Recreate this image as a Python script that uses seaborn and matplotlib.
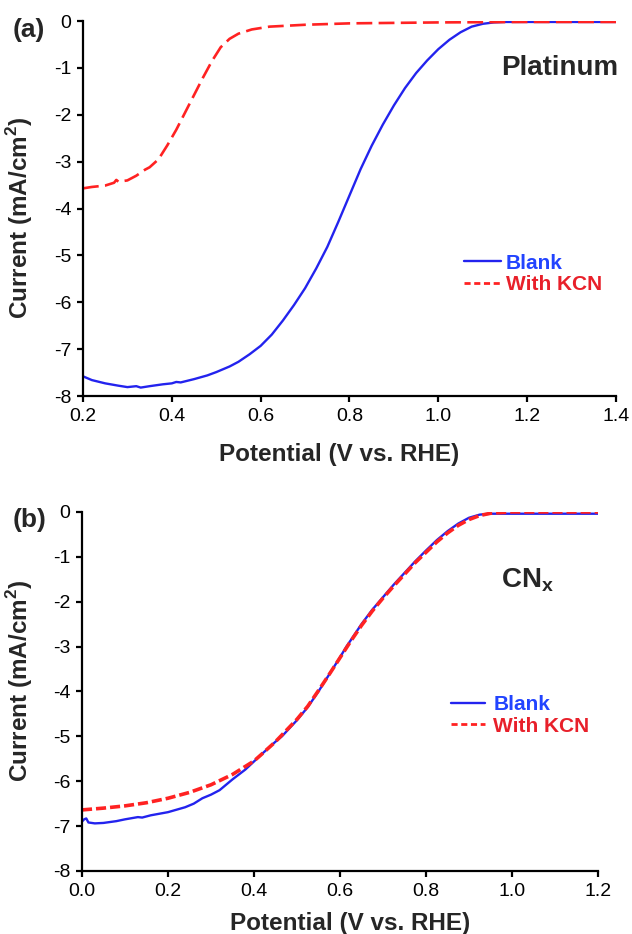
import matplotlib
matplotlib.use("Agg")
import matplotlib.pyplot as plt
from matplotlib.lines import Line2D
from matplotlib.ticker import FormatStrFormatter, MultipleLocator
import pandas as pd
import seaborn as sns

BLUE = "#2323ee"
RED = "#ff2222"

# panel (a): platinum
pt_blank_v = [0.20, 0.22, 0.25, 0.28, 0.30, 0.32, 0.33, 0.35, 0.38, 0.40, 0.41, 0.42,
              0.45, 0.48, 0.50, 0.53, 0.55, 0.575, 0.60, 0.625, 0.65, 0.675, 0.70,
              0.725, 0.75, 0.775, 0.80, 0.825, 0.85, 0.875, 0.90, 0.925, 0.95, 0.975,
              1.00, 1.025, 1.05, 1.075, 1.10, 1.125, 1.15, 1.20, 1.30, 1.40]
pt_blank_i = [-7.58, -7.66, -7.73, -7.78, -7.81, -7.79, -7.82, -7.79, -7.75, -7.73, -7.70, -7.71,
              -7.64, -7.56, -7.49, -7.37, -7.27, -7.11, -6.93, -6.69, -6.39, -6.06, -5.70,
              -5.28, -4.82, -4.28, -3.72, -3.16, -2.66, -2.21, -1.80, -1.43, -1.11, -0.84,
              -0.60, -0.40, -0.24, -0.12, -0.06, -0.03, -0.02, -0.02, -0.02, -0.02]
pt_kcn_v = [0.20, 0.22, 0.25, 0.27, 0.275, 0.28, 0.30, 0.32, 0.34, 0.35, 0.37, 0.39, 0.41,
            0.43, 0.45, 0.47, 0.49, 0.51, 0.53, 0.55, 0.58, 0.62, 0.70, 0.80, 0.90, 1.00,
            1.20, 1.40]
pt_kcn_i = [-3.57, -3.54, -3.51, -3.45, -3.39, -3.43, -3.40, -3.30, -3.17, -3.12, -2.95, -2.65,
            -2.32, -1.95, -1.58, -1.21, -0.86, -0.56, -0.38, -0.27, -0.18, -0.12, -0.08, -0.05,
            -0.04, -0.03, -0.02, -0.02]

# panel (b): CNx
cn_blank_v = [0.00, 0.005, 0.01, 0.015, 0.03, 0.05, 0.08, 0.10, 0.13, 0.14, 0.16, 0.20, 0.24,
              0.26, 0.28, 0.30, 0.32, 0.35, 0.38, 0.40, 0.42, 0.45, 0.465, 0.50, 0.525, 0.55,
              0.575, 0.60, 0.615, 0.625, 0.65, 0.675, 0.70, 0.725, 0.75, 0.775, 0.80, 0.825,
              0.85, 0.875, 0.90, 0.925, 0.95, 1.00, 1.20]
cn_blank_i = [-6.90, -6.85, -6.83, -6.92, -6.94, -6.93, -6.89, -6.85, -6.80, -6.81, -6.76, -6.69,
              -6.58, -6.50, -6.38, -6.30, -6.20, -5.96, -5.74, -5.56, -5.38, -5.12, -5.00, -4.64,
              -4.35, -4.00, -3.62, -3.24, -3.00, -2.86, -2.50, -2.18, -1.90, -1.62, -1.36, -1.10,
              -0.86, -0.63, -0.43, -0.26, -0.13, -0.06, -0.04, -0.04, -0.04]
cn_kcn_v = [0.00, 0.05, 0.10, 0.15, 0.20, 0.25, 0.30, 0.35, 0.40, 0.42, 0.45, 0.50, 0.525,
            0.55, 0.575, 0.60, 0.625, 0.65, 0.675, 0.70, 0.725, 0.75, 0.775, 0.80, 0.825,
            0.85, 0.875, 0.90, 0.925, 0.95, 1.00, 1.20]
cn_kcn_i = [-6.64, -6.60, -6.55, -6.48, -6.38, -6.25, -6.08, -5.85, -5.55, -5.38, -5.12, -4.62,
            -4.33, -3.98, -3.62, -3.25, -2.88, -2.53, -2.21, -1.92, -1.65, -1.39, -1.13, -0.90,
            -0.67, -0.47, -0.30, -0.17, -0.08, -0.03, 0.00, 0.00]

sns.set_theme(style="ticks")
plt.rcParams["font.family"] = ["Liberation Sans", "DejaVu Sans"]
plt.rcParams["mathtext.fontset"] = "custom"
plt.rcParams["mathtext.rm"] = "Liberation Sans"
plt.rcParams["mathtext.bf"] = "Liberation Sans:bold"
plt.rcParams["axes.unicode_minus"] = False

fig = plt.figure(figsize=(6.32, 9.34), dpi=100)
ax_a = fig.add_axes([0.1313, 0.576, 0.8434, 0.4015])
ax_b = fig.add_axes([0.1297, 0.0675, 0.8165, 0.3844])


def style_axes(ax, label_x, label_y, ylab_x, ylab_y):
    ax.set_ylim(-8, 0)
    ax.xaxis.set_major_locator(MultipleLocator(0.2))
    ax.yaxis.set_major_locator(MultipleLocator(1))
    ax.xaxis.set_major_formatter(FormatStrFormatter("%.1f"))
    ax.yaxis.set_major_formatter(FormatStrFormatter("%d"))
    sns.despine(ax=ax)
    for side in ["left", "bottom"]:
        ax.spines[side].set_linewidth(1.6)
        ax.spines[side].set_color("black")
    ax.tick_params(direction="out", length=4.5, width=1.6, color="black",
                   labelsize=14, labelcolor="black", pad=4)
    ax.set_xlabel("Potential (V vs. RHE)", fontsize=17.5, fontweight="bold")
    ax.set_ylabel("Current (mA/cm$^\\mathbf{2}$)", fontsize=17.5, fontweight="bold")
    ax.xaxis.set_label_coords(label_x, label_y)
    ax.yaxis.set_label_coords(ylab_x, ylab_y)
    ax.grid(False)


def legend(ax, anchor, handlelength, textpad):
    handles = [
        Line2D([], [], color=BLUE, lw=1.7),
        Line2D([], [], color=RED, lw=2.0, linestyle=(0, (2.2, 1.3))),
    ]
    leg = ax.legend(handles, ["Blank", "With KCN"], loc="upper left",
                    bbox_to_anchor=anchor, frameon=False, borderpad=0,
                    borderaxespad=0, handlelength=handlelength,
                    handletextpad=textpad, labelspacing=0.12,
                    prop={"size": 15, "weight": "bold"})
    leg.get_texts()[0].set_color("#2244ff")
    leg.get_texts()[1].set_color("#e8202a")


pt = pd.concat([
    pd.DataFrame({"v": pt_blank_v, "i": pt_blank_i, "s": "Blank"}),
    pd.DataFrame({"v": pt_kcn_v, "i": pt_kcn_i, "s": "With KCN"}),
])
cn = pd.concat([
    pd.DataFrame({"v": cn_blank_v, "i": cn_blank_i, "s": "Blank"}),
    pd.DataFrame({"v": cn_kcn_v, "i": cn_kcn_i, "s": "With KCN"}),
])

sns.lineplot(data=pt[pt["s"] == "Blank"], x="v", y="i", ax=ax_a, color=BLUE,
             lw=1.7, estimator=None, sort=False)
sns.lineplot(data=pt[pt["s"] == "With KCN"], x="v", y="i", ax=ax_a, color=RED,
             lw=1.9, linestyle=(0, (6.0, 2.4)), estimator=None, sort=False)
ax_a.set_xlim(0.2, 1.4)
style_axes(ax_a, 0.48, -0.125, -0.09, 0.475)
ax_a.text(1.405, -1.0, "Platinum", ha="right", va="center", fontsize=20,
          fontweight="bold")
legend(ax_a, (0.715, 0.38), 1.75, 0.25)

sns.lineplot(data=cn[cn["s"] == "Blank"], x="v", y="i", ax=ax_b, color=BLUE,
             lw=1.7, estimator=None, sort=False)
sns.lineplot(data=cn[cn["s"] == "With KCN"], x="v", y="i", ax=ax_b, color=RED,
             lw=2.6, linestyle=(0, (2.8, 1.1)), estimator=None, sort=False)
ax_b.set_xlim(0.0, 1.2)
style_axes(ax_b, 0.52, -0.114, -0.091, 0.529)
ax_b.text(0.975, -1.67, "CN$_\\mathbf{x}$", ha="left", va="baseline",
          fontsize=20, fontweight="bold")
legend(ax_b, (0.715, 0.49), 1.65, 0.38)

fig.text(29 / 632, 1 - 30 / 934, "(a)", ha="center", va="center",
         fontsize=19, fontweight="bold")
fig.text(30 / 632, 1 - 520 / 934, "(b)", ha="center", va="center",
         fontsize=19, fontweight="bold")

fig.savefig("out.png", dpi=100)
